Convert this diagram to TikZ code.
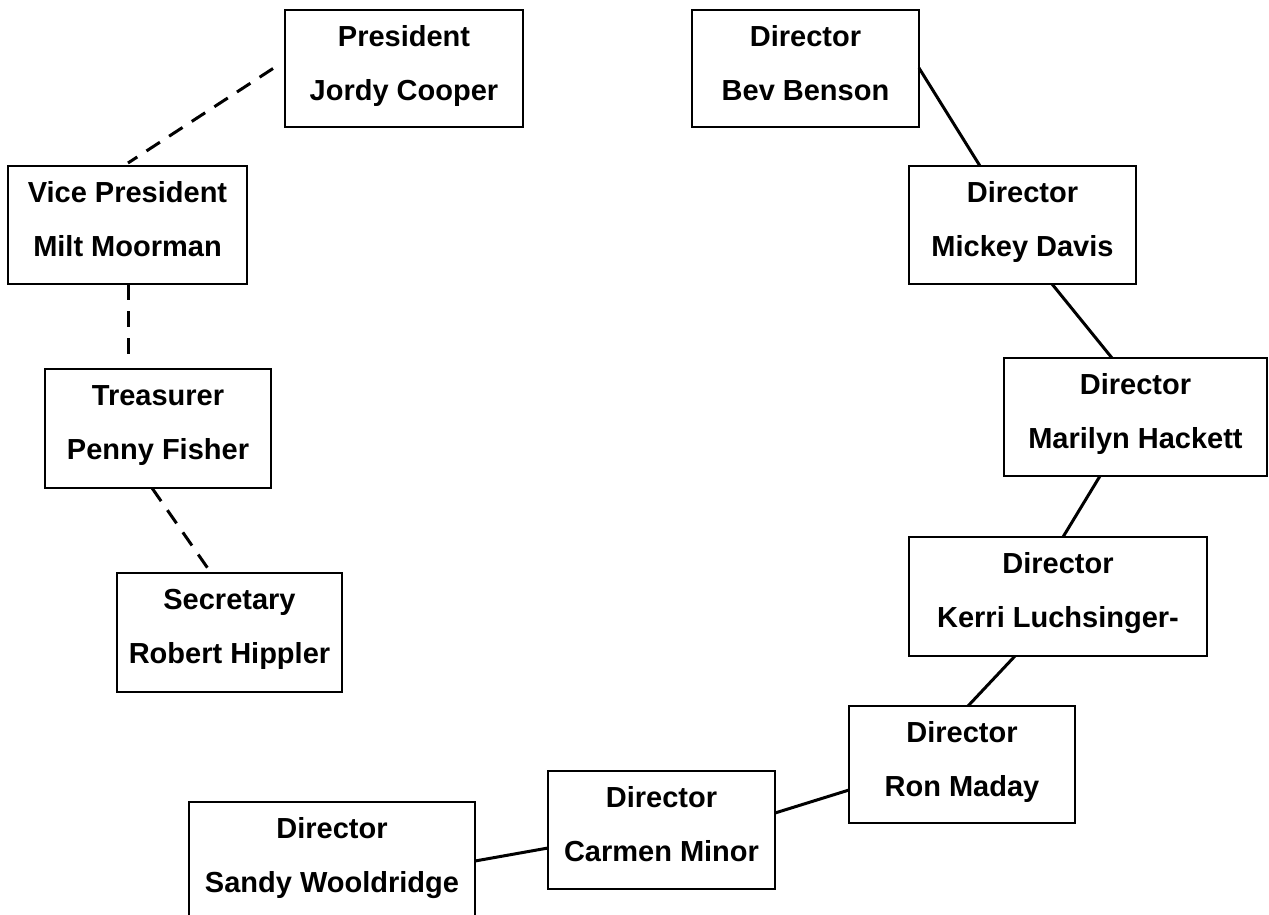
\documentclass[tikz,border=0pt]{standalone}
\usepackage{fontspec}
\setmainfont{Liberation Sans}
\tikzset{
  orgbox/.style={draw=black, line width=2pt, anchor=north west, inner sep=0pt, outer sep=0pt},
  orgtxt/.style={anchor=base, inner sep=0pt, font=\fontsize{29}{34}\selectfont\bfseries},
  solidlink/.style={line width=3pt},
  dashlink/.style={line width=3pt, dash pattern=on 16pt off 11pt}
}
\newcommand{\mkorgbox}[7]{%
  \node[orgbox, minimum width=#4pt, minimum height=#5pt] (#1) at (#2,#3) {};
  \node[orgtxt] (#1-a) at ([yshift=-36pt]#1.north) {#6};
  \node[orgtxt] (#1-b) at ([yshift=-90pt]#1.north) {#7};
}
\begin{document}
\begin{tikzpicture}[x=1pt,y=-1pt]
\useasboundingbox (0,0) rectangle (1269,914);
\fill[white] (0,0) rectangle (1269,914);
\mkorgbox{pres}{285}{10}{238}{117}{President}{Jordy Cooper}
\mkorgbox{vp}{8}{166}{239}{118}{Vice President}{Milt Moorman}
\mkorgbox{tre}{45}{369}{226}{119}{Treasurer}{Penny Fisher}
\mkorgbox{sec}{117}{573}{225}{119}{Secretary}{Robert Hippler}
\mkorgbox{bev}{692}{10}{227}{117}{Director}{Bev Benson}
\mkorgbox{mic}{909}{166}{227}{118}{Director}{Mickey Davis}
\mkorgbox{mar}{1004}{358}{263}{118}{Director}{Marilyn Hackett}
\mkorgbox{ker}{909}{537}{298}{119}{Director}{Kerri Luchsinger-}
\mkorgbox{ron}{849}{706}{226}{117}{Director}{Ron Maday}
\mkorgbox{car}{548}{771}{227}{118}{Director}{Carmen Minor}
\mkorgbox{san}{189}{802}{286}{118}{Director}{Sandy Wooldridge}
% dashed officer links
\coordinate (vpend) at (128,356);
\draw[dashlink] ([xshift=-12pt]pres.west) -- ([xshift=0.5pt,yshift=3pt]vp.north);
\draw[dashlink] ([xshift=0.5pt]vp.south) -- (vpend);
\draw[dashlink] ([xshift=-6pt]tre.south) -- ([xshift=-20.5pt,yshift=3pt]sec.north);
% solid director links
\draw[solidlink] ([yshift=0.5pt]bev.east) -- ([xshift=-42.5pt]mic.north);
\draw[solidlink] ([xshift=29.5pt]mic.south) -- ([xshift=-23.5pt]mar.north);
\draw[solidlink] ([xshift=-35.5pt]mar.south) -- ([xshift=5pt]ker.north);
\draw[solidlink] ([xshift=-43pt]ker.south) -- ([xshift=6pt]ron.north);
\draw[solidlink] ([yshift=-25.5pt]ron.west) -- ([yshift=17pt]car.east);
\draw[solidlink] ([yshift=-18pt]car.west) -- (san.east);
\end{tikzpicture}
\end{document}
